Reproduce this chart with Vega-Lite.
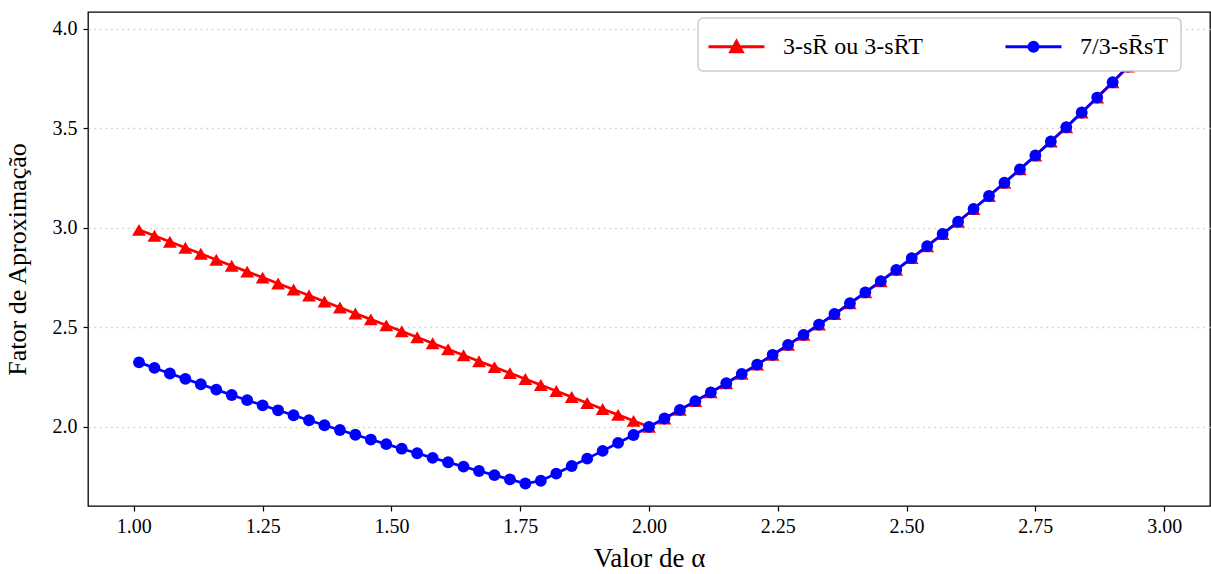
{
  "$schema": "https://vega.github.io/schema/vega-lite/v6.json",
  "width": 1122,
  "height": 494,
  "autosize": {"type": "none"},
  "padding": {"left": 88, "top": 12, "right": 1, "bottom": 68},
  "background": "#ffffff",
  "config": {
    "font": "Liberation Serif",
    "view": {"stroke": "#000000", "strokeWidth": 1.3},
    "axis": {
      "labelColor": "#000000",
      "titleColor": "#000000",
      "titleFontWeight": "normal",
      "tickColor": "#000000",
      "domain": false
    },
    "legend": {"strokeWidth": 1.5}
  },
  "data": {
    "values": [
      {"alfa": 1.01, "fator": 2.99, "serie": "3-sR̄ ou 3-sR̄T"},
      {"alfa": 1.04, "fator": 2.96, "serie": "3-sR̄ ou 3-sR̄T"},
      {"alfa": 1.07, "fator": 2.93, "serie": "3-sR̄ ou 3-sR̄T"},
      {"alfa": 1.10, "fator": 2.90, "serie": "3-sR̄ ou 3-sR̄T"},
      {"alfa": 1.13, "fator": 2.87, "serie": "3-sR̄ ou 3-sR̄T"},
      {"alfa": 1.16, "fator": 2.84, "serie": "3-sR̄ ou 3-sR̄T"},
      {"alfa": 1.19, "fator": 2.81, "serie": "3-sR̄ ou 3-sR̄T"},
      {"alfa": 1.22, "fator": 2.78, "serie": "3-sR̄ ou 3-sR̄T"},
      {"alfa": 1.25, "fator": 2.75, "serie": "3-sR̄ ou 3-sR̄T"},
      {"alfa": 1.28, "fator": 2.72, "serie": "3-sR̄ ou 3-sR̄T"},
      {"alfa": 1.31, "fator": 2.69, "serie": "3-sR̄ ou 3-sR̄T"},
      {"alfa": 1.34, "fator": 2.66, "serie": "3-sR̄ ou 3-sR̄T"},
      {"alfa": 1.37, "fator": 2.63, "serie": "3-sR̄ ou 3-sR̄T"},
      {"alfa": 1.40, "fator": 2.60, "serie": "3-sR̄ ou 3-sR̄T"},
      {"alfa": 1.43, "fator": 2.57, "serie": "3-sR̄ ou 3-sR̄T"},
      {"alfa": 1.46, "fator": 2.54, "serie": "3-sR̄ ou 3-sR̄T"},
      {"alfa": 1.49, "fator": 2.51, "serie": "3-sR̄ ou 3-sR̄T"},
      {"alfa": 1.52, "fator": 2.48, "serie": "3-sR̄ ou 3-sR̄T"},
      {"alfa": 1.55, "fator": 2.45, "serie": "3-sR̄ ou 3-sR̄T"},
      {"alfa": 1.58, "fator": 2.42, "serie": "3-sR̄ ou 3-sR̄T"},
      {"alfa": 1.61, "fator": 2.39, "serie": "3-sR̄ ou 3-sR̄T"},
      {"alfa": 1.64, "fator": 2.36, "serie": "3-sR̄ ou 3-sR̄T"},
      {"alfa": 1.67, "fator": 2.33, "serie": "3-sR̄ ou 3-sR̄T"},
      {"alfa": 1.70, "fator": 2.30, "serie": "3-sR̄ ou 3-sR̄T"},
      {"alfa": 1.73, "fator": 2.27, "serie": "3-sR̄ ou 3-sR̄T"},
      {"alfa": 1.76, "fator": 2.24, "serie": "3-sR̄ ou 3-sR̄T"},
      {"alfa": 1.79, "fator": 2.21, "serie": "3-sR̄ ou 3-sR̄T"},
      {"alfa": 1.82, "fator": 2.18, "serie": "3-sR̄ ou 3-sR̄T"},
      {"alfa": 1.85, "fator": 2.15, "serie": "3-sR̄ ou 3-sR̄T"},
      {"alfa": 1.88, "fator": 2.12, "serie": "3-sR̄ ou 3-sR̄T"},
      {"alfa": 1.91, "fator": 2.09, "serie": "3-sR̄ ou 3-sR̄T"},
      {"alfa": 1.94, "fator": 2.06, "serie": "3-sR̄ ou 3-sR̄T"},
      {"alfa": 1.97, "fator": 2.03, "serie": "3-sR̄ ou 3-sR̄T"},
      {"alfa": 2.00, "fator": 2.000, "serie": "3-sR̄ ou 3-sR̄T"},
      {"alfa": 2.03, "fator": 2.042, "serie": "3-sR̄ ou 3-sR̄T"},
      {"alfa": 2.06, "fator": 2.085, "serie": "3-sR̄ ou 3-sR̄T"},
      {"alfa": 2.09, "fator": 2.129, "serie": "3-sR̄ ou 3-sR̄T"},
      {"alfa": 2.12, "fator": 2.173, "serie": "3-sR̄ ou 3-sR̄T"},
      {"alfa": 2.15, "fator": 2.219, "serie": "3-sR̄ ou 3-sR̄T"},
      {"alfa": 2.18, "fator": 2.266, "serie": "3-sR̄ ou 3-sR̄T"},
      {"alfa": 2.21, "fator": 2.313, "serie": "3-sR̄ ou 3-sR̄T"},
      {"alfa": 2.24, "fator": 2.362, "serie": "3-sR̄ ou 3-sR̄T"},
      {"alfa": 2.27, "fator": 2.412, "serie": "3-sR̄ ou 3-sR̄T"},
      {"alfa": 2.30, "fator": 2.462, "serie": "3-sR̄ ou 3-sR̄T"},
      {"alfa": 2.33, "fator": 2.514, "serie": "3-sR̄ ou 3-sR̄T"},
      {"alfa": 2.36, "fator": 2.567, "serie": "3-sR̄ ou 3-sR̄T"},
      {"alfa": 2.39, "fator": 2.621, "serie": "3-sR̄ ou 3-sR̄T"},
      {"alfa": 2.42, "fator": 2.676, "serie": "3-sR̄ ou 3-sR̄T"},
      {"alfa": 2.45, "fator": 2.732, "serie": "3-sR̄ ou 3-sR̄T"},
      {"alfa": 2.48, "fator": 2.789, "serie": "3-sR̄ ou 3-sR̄T"},
      {"alfa": 2.51, "fator": 2.848, "serie": "3-sR̄ ou 3-sR̄T"},
      {"alfa": 2.54, "fator": 2.908, "serie": "3-sR̄ ou 3-sR̄T"},
      {"alfa": 2.57, "fator": 2.969, "serie": "3-sR̄ ou 3-sR̄T"},
      {"alfa": 2.60, "fator": 3.031, "serie": "3-sR̄ ou 3-sR̄T"},
      {"alfa": 2.63, "fator": 3.095, "serie": "3-sR̄ ou 3-sR̄T"},
      {"alfa": 2.66, "fator": 3.160, "serie": "3-sR̄ ou 3-sR̄T"},
      {"alfa": 2.69, "fator": 3.227, "serie": "3-sR̄ ou 3-sR̄T"},
      {"alfa": 2.72, "fator": 3.294, "serie": "3-sR̄ ou 3-sR̄T"},
      {"alfa": 2.75, "fator": 3.364, "serie": "3-sR̄ ou 3-sR̄T"},
      {"alfa": 2.78, "fator": 3.434, "serie": "3-sR̄ ou 3-sR̄T"},
      {"alfa": 2.81, "fator": 3.506, "serie": "3-sR̄ ou 3-sR̄T"},
      {"alfa": 2.84, "fator": 3.580, "serie": "3-sR̄ ou 3-sR̄T"},
      {"alfa": 2.87, "fator": 3.655, "serie": "3-sR̄ ou 3-sR̄T"},
      {"alfa": 2.90, "fator": 3.732, "serie": "3-sR̄ ou 3-sR̄T"},
      {"alfa": 2.93, "fator": 3.811, "serie": "3-sR̄ ou 3-sR̄T"},
      {"alfa": 2.96, "fator": 3.891, "serie": "3-sR̄ ou 3-sR̄T"},
      {"alfa": 2.99, "fator": 3.972, "serie": "3-sR̄ ou 3-sR̄T"},
      {"alfa": 1.01, "fator": 2.324, "serie": "7/3-sR̄sT"},
      {"alfa": 1.04, "fator": 2.296, "serie": "7/3-sR̄sT"},
      {"alfa": 1.07, "fator": 2.268, "serie": "7/3-sR̄sT"},
      {"alfa": 1.10, "fator": 2.241, "serie": "7/3-sR̄sT"},
      {"alfa": 1.13, "fator": 2.214, "serie": "7/3-sR̄sT"},
      {"alfa": 1.16, "fator": 2.187, "serie": "7/3-sR̄sT"},
      {"alfa": 1.19, "fator": 2.160, "serie": "7/3-sR̄sT"},
      {"alfa": 1.22, "fator": 2.134, "serie": "7/3-sR̄sT"},
      {"alfa": 1.25, "fator": 2.108, "serie": "7/3-sR̄sT"},
      {"alfa": 1.28, "fator": 2.083, "serie": "7/3-sR̄sT"},
      {"alfa": 1.31, "fator": 2.058, "serie": "7/3-sR̄sT"},
      {"alfa": 1.34, "fator": 2.033, "serie": "7/3-sR̄sT"},
      {"alfa": 1.37, "fator": 2.008, "serie": "7/3-sR̄sT"},
      {"alfa": 1.40, "fator": 1.984, "serie": "7/3-sR̄sT"},
      {"alfa": 1.43, "fator": 1.960, "serie": "7/3-sR̄sT"},
      {"alfa": 1.46, "fator": 1.936, "serie": "7/3-sR̄sT"},
      {"alfa": 1.49, "fator": 1.913, "serie": "7/3-sR̄sT"},
      {"alfa": 1.52, "fator": 1.890, "serie": "7/3-sR̄sT"},
      {"alfa": 1.55, "fator": 1.867, "serie": "7/3-sR̄sT"},
      {"alfa": 1.58, "fator": 1.844, "serie": "7/3-sR̄sT"},
      {"alfa": 1.61, "fator": 1.822, "serie": "7/3-sR̄sT"},
      {"alfa": 1.64, "fator": 1.800, "serie": "7/3-sR̄sT"},
      {"alfa": 1.67, "fator": 1.778, "serie": "7/3-sR̄sT"},
      {"alfa": 1.70, "fator": 1.757, "serie": "7/3-sR̄sT"},
      {"alfa": 1.73, "fator": 1.736, "serie": "7/3-sR̄sT"},
      {"alfa": 1.76, "fator": 1.715, "serie": "7/3-sR̄sT"},
      {"alfa": 1.79, "fator": 1.729, "serie": "7/3-sR̄sT"},
      {"alfa": 1.82, "fator": 1.765, "serie": "7/3-sR̄sT"},
      {"alfa": 1.85, "fator": 1.803, "serie": "7/3-sR̄sT"},
      {"alfa": 1.88, "fator": 1.840, "serie": "7/3-sR̄sT"},
      {"alfa": 1.91, "fator": 1.879, "serie": "7/3-sR̄sT"},
      {"alfa": 1.94, "fator": 1.919, "serie": "7/3-sR̄sT"},
      {"alfa": 1.97, "fator": 1.959, "serie": "7/3-sR̄sT"},
      {"alfa": 2.00, "fator": 2.000, "serie": "7/3-sR̄sT"},
      {"alfa": 2.03, "fator": 2.042, "serie": "7/3-sR̄sT"},
      {"alfa": 2.06, "fator": 2.085, "serie": "7/3-sR̄sT"},
      {"alfa": 2.09, "fator": 2.129, "serie": "7/3-sR̄sT"},
      {"alfa": 2.12, "fator": 2.173, "serie": "7/3-sR̄sT"},
      {"alfa": 2.15, "fator": 2.219, "serie": "7/3-sR̄sT"},
      {"alfa": 2.18, "fator": 2.266, "serie": "7/3-sR̄sT"},
      {"alfa": 2.21, "fator": 2.313, "serie": "7/3-sR̄sT"},
      {"alfa": 2.24, "fator": 2.362, "serie": "7/3-sR̄sT"},
      {"alfa": 2.27, "fator": 2.412, "serie": "7/3-sR̄sT"},
      {"alfa": 2.30, "fator": 2.462, "serie": "7/3-sR̄sT"},
      {"alfa": 2.33, "fator": 2.514, "serie": "7/3-sR̄sT"},
      {"alfa": 2.36, "fator": 2.567, "serie": "7/3-sR̄sT"},
      {"alfa": 2.39, "fator": 2.621, "serie": "7/3-sR̄sT"},
      {"alfa": 2.42, "fator": 2.676, "serie": "7/3-sR̄sT"},
      {"alfa": 2.45, "fator": 2.732, "serie": "7/3-sR̄sT"},
      {"alfa": 2.48, "fator": 2.789, "serie": "7/3-sR̄sT"},
      {"alfa": 2.51, "fator": 2.848, "serie": "7/3-sR̄sT"},
      {"alfa": 2.54, "fator": 2.908, "serie": "7/3-sR̄sT"},
      {"alfa": 2.57, "fator": 2.969, "serie": "7/3-sR̄sT"},
      {"alfa": 2.60, "fator": 3.031, "serie": "7/3-sR̄sT"},
      {"alfa": 2.63, "fator": 3.095, "serie": "7/3-sR̄sT"},
      {"alfa": 2.66, "fator": 3.160, "serie": "7/3-sR̄sT"},
      {"alfa": 2.69, "fator": 3.227, "serie": "7/3-sR̄sT"},
      {"alfa": 2.72, "fator": 3.294, "serie": "7/3-sR̄sT"},
      {"alfa": 2.75, "fator": 3.364, "serie": "7/3-sR̄sT"},
      {"alfa": 2.78, "fator": 3.434, "serie": "7/3-sR̄sT"},
      {"alfa": 2.81, "fator": 3.506, "serie": "7/3-sR̄sT"},
      {"alfa": 2.84, "fator": 3.580, "serie": "7/3-sR̄sT"},
      {"alfa": 2.87, "fator": 3.655, "serie": "7/3-sR̄sT"},
      {"alfa": 2.90, "fator": 3.732, "serie": "7/3-sR̄sT"},
      {"alfa": 2.93, "fator": 3.811, "serie": "7/3-sR̄sT"},
      {"alfa": 2.96, "fator": 3.891, "serie": "7/3-sR̄sT"},
      {"alfa": 2.99, "fator": 3.972, "serie": "7/3-sR̄sT"}
    ]
  },
  "encoding": {
    "x": {
      "field": "alfa",
      "type": "quantitative",
      "scale": {"domain": [0.911, 3.089], "nice": false, "zero": false},
      "axis": {
        "title": "Valor de α",
        "values": [1, 1.25, 1.5, 1.75, 2, 2.25, 2.5, 2.75, 3],
        "format": ".2f",
        "grid": false,
        "tickSize": 5,
        "tickWidth": 1.2,
        "labelFontSize": 20,
        "labelPadding": 5,
        "titleFontSize": 27,
        "titlePadding": 9
      }
    },
    "y": {
      "field": "fator",
      "type": "quantitative",
      "scale": {"domain": [1.602, 4.085], "nice": false, "zero": false},
      "axis": {
        "title": "Fator de Aproximação",
        "values": [2, 2.5, 3, 3.5, 4],
        "format": ".1f",
        "grid": true,
        "gridColor": "#d8d8c6",
        "gridDash": [2, 3.6],
        "gridWidth": 1.5,
        "tickSize": 5,
        "tickWidth": 1.2,
        "labelFontSize": 20,
        "labelPadding": 6,
        "titleFontSize": 26,
        "titlePadding": 22
      }
    },
    "color": {
      "field": "serie",
      "type": "nominal",
      "scale": {
        "domain": ["3-sR̄ ou 3-sR̄T", "7/3-sR̄sT"],
        "range": ["#ff0000", "#0000ff"]
      },
      "legend": {
        "title": null,
        "orient": "none",
        "direction": "horizontal",
        "legendX": 610,
        "legendY": 6,
        "zindex": 2,
        "fillColor": "#ffffff",
        "strokeColor": "#cccccc",
        "cornerRadius": 5,
        "padding": 12,
        "symbolSize": 900,
        "symbolStrokeWidth": 3,
        "symbolOffset": 10,
        "labelOffset": 30,
        "columnPadding": 76,
        "labelFontSize": 24,
        "labelColor": "#000000",
        "labelLimit": 400,
        "encode": {
          "symbols": {
            "update": {
              "shape": {"signal": "datum.value === '7/3-sR̄sT' ? 'M-1.867,0L1.867,0M0.3,0A0.3,0.3,0,1,1,-0.3,0A0.3,0.3,0,1,1,0.3,0Z' : 'M-1.867,0L1.867,0M0,-0.36L0.38,0.33L-0.38,0.33Z'"},
              "fill": {"scale": "color", "field": "value"},
              "stroke": {"scale": "color", "field": "value"},
              "strokeWidth": {"value": 3},
              "opacity": {"value": 1}
            }
          }
        }
      }
    }
  },
  "layer": [
    {
      "transform": [{"filter": {"field": "serie", "equal": "3-sR̄ ou 3-sR̄T"}}],
      "mark": {"type": "line", "strokeWidth": 2.7}
    },
    {
      "transform": [{"filter": {"field": "serie", "equal": "3-sR̄ ou 3-sR̄T"}}],
      "mark": {"type": "point", "shape": "triangle-up", "filled": true, "size": 190, "opacity": 1}
    },
    {
      "transform": [{"filter": {"field": "serie", "equal": "7/3-sR̄sT"}}],
      "mark": {"type": "line", "strokeWidth": 2.7}
    },
    {
      "transform": [{"filter": {"field": "serie", "equal": "7/3-sR̄sT"}}],
      "mark": {"type": "point", "shape": "circle", "filled": true, "size": 140, "opacity": 1}
    }
  ]
}
